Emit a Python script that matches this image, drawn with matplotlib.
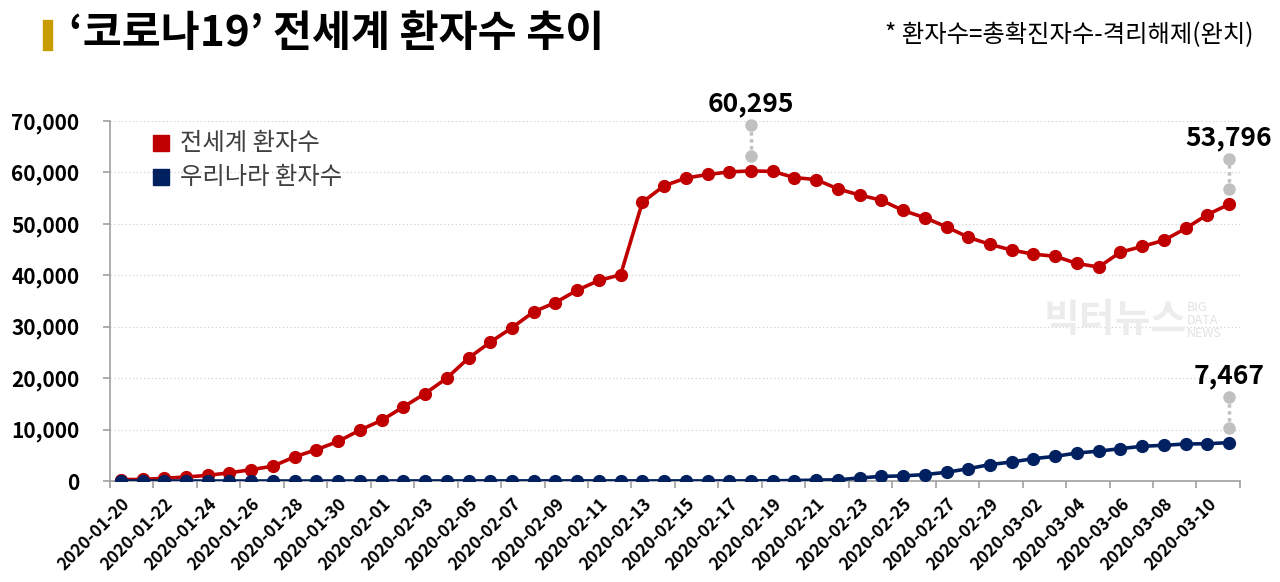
import numpy as np
import pandas as pd
import matplotlib
matplotlib.use("Agg")
import matplotlib.pyplot as plt
from matplotlib.patches import Rectangle

plt.rcParams['font.family'] = ['Noto Sans CJK KR', 'DejaVu Sans']

# data
dates = pd.date_range("2020-01-20", "2020-03-11").strftime("%Y-%m-%d").tolist()

world = [280, 310, 540, 780, 1100, 1600, 2200, 2900, 4700, 6100,
         7700, 9900, 11800, 14400, 17000, 20000, 23900, 27000, 29800, 32900,
         34700, 37100, 39000, 40100, 54200, 57400, 58900, 59600, 60100, 60295,
         60200, 59000, 58600, 56800, 55600, 54600, 52600, 51200, 49400, 47400,
         46000, 44900, 44100, 43700, 42300, 41600, 44500, 45600, 46800, 49100,
         51800, 53796]

korea = [1, 1, 1, 1, 2, 2, 3, 4, 4, 4,
         4, 11, 12, 15, 15, 16, 19, 23, 24, 24,
         25, 25, 25, 25, 24, 21, 20, 21, 23, 28,
         45, 90, 180, 230, 600, 900, 1000, 1250, 1700, 2400,
         3200, 3700, 4350, 4800, 5450, 5800, 6300, 6750, 6950, 7200,
         7250, 7467]

series_names = ["전세계 환자수", "우리나라 환자수"]
title = "‘코로나19’ 전세계 환자수 추이"
note = "* 환자수=총확진자수-격리해제(완치)"

red = "#C00000"
navy = "#002060"

fig = plt.figure(figsize=(12.8, 5.82), dpi=100)
ax = fig.add_axes([0.0859, 0.1735, 0.8828, 0.6186])

x = np.arange(len(dates))
ax.plot(x, world, color=red, lw=2.6, marker="o", ms=8.5, zorder=3)
ax.plot(x, korea, color=navy, lw=2.6, marker="o", ms=8.5, zorder=4)

ax.set_xlim(-0.5, len(dates) - 0.5)
ax.set_ylim(0, 70000)
ax.set_yticks(np.arange(0, 70001, 10000))
ax.set_yticklabels([f"{v:,}" for v in range(0, 70001, 10000)],
                   fontsize=15, fontweight="bold", color="black")
ax.yaxis.grid(True, color="#d0d0d0", linestyle=(0, (1, 2)), lw=0.9)
ax.set_axisbelow(True)

ax.set_xticks(x[::2])
ax.set_xticklabels(dates[::2], rotation=45, ha="right", rotation_mode="anchor",
                   fontsize=12.3, fontweight="bold")
ax.set_xticks(np.arange(-0.5, len(dates), 2), minor=True)
ax.tick_params(axis="x", which="major", length=0, pad=10)
ax.tick_params(axis="x", which="minor", length=5, color="#a0a0a0", width=1.2, direction="out")
ax.tick_params(axis="y", length=5, color="#a0a0a0", width=1.2, pad=17)

for s in ["top", "right"]:
    ax.spines[s].set_visible(False)
for s in ["left", "bottom"]:
    ax.spines[s].set_color("#a0a0a0")
    ax.spines[s].set_linewidth(1.2)

# callouts: gray dotted leader with round ends, value above
callouts = [(29, world[29]), (51, world[51]), (51, korea[51])]
for xi, v in callouts:
    y0, y1 = v + 2900, v + 8900
    ax.plot([xi, xi], [y0, y1], color="#c0c0c0", lw=2.5, linestyle=(0, (1, 1)),
            clip_on=False, zorder=2)
    ax.plot([xi, xi], [y0, y1], "o", color="#c0c0c0", ms=8, clip_on=False, zorder=2)
    ax.text(xi, y1 + 1500, f"{v:,}", ha="center", va="bottom", fontsize=19,
            fontweight="bold", color="black", clip_on=False)

# legend
for i, (name, c) in enumerate(zip(series_names, [red, navy])):
    fig.patches.append(Rectangle((0.1195, 0.740 - i * 0.058), 0.0125, 0.0275,
                                 transform=fig.transFigure, color=c))
    fig.text(0.1405, 0.7535 - i * 0.058, name, fontsize=17.5, color="#404040",
             va="center", ha="left")

# title bar and texts
fig.patches.append(Rectangle((0.0336, 0.914), 0.0072, 0.052,
                             transform=fig.transFigure, color="#C89B00"))
fig.text(0.054, 0.942, title, fontsize=30.5, fontweight="bold", va="center", ha="left")
fig.text(0.979, 0.940, note, fontsize=17.5, va="center", ha="right")

# faint watermark
fig.text(0.815, 0.45, "빅터뉴스", fontsize=28, fontweight="bold", color="#ececec",
         va="center", ha="left", zorder=0)
fig.text(0.927, 0.45, "BIG\nDATA\nNEWS", fontsize=9, color="#e2e2e2",
         va="center", ha="left", linespacing=1.0, zorder=0)

fig.savefig("out.png", dpi=100)
